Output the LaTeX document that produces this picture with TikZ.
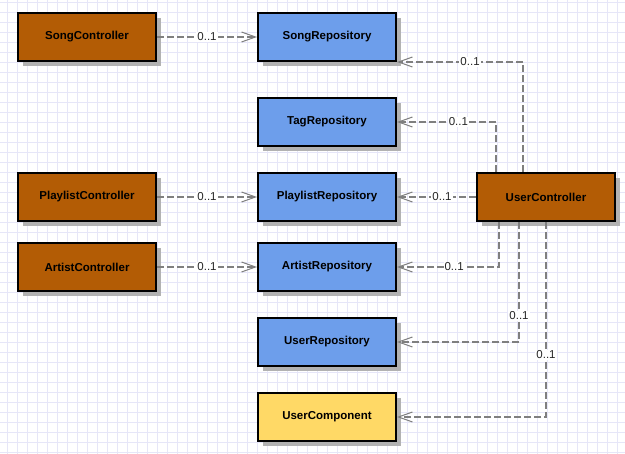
\documentclass[tikz,border=0pt]{standalone}
\usepackage{fontspec}
\setmainfont{Liberation Sans}
\usetikzlibrary{arrows.meta,positioning,shadows}

\definecolor{ctrlbrown}{HTML}{B35C05}
\definecolor{repoblue}{HTML}{6D9EEB}
\definecolor{compyellow}{HTML}{FFD966}
\definecolor{gridlav}{HTML}{E6E6F8}
\definecolor{deplinegray}{HTML}{7F7F7F}

\begin{document}
\begin{tikzpicture}[x=1pt, y=-1pt, font=\fontsize{11.5}{13}\selectfont\bfseries]
\tikzstyle{box} = [draw=black, line width=2pt, minimum width=138pt, minimum height=48pt,
  inner sep=0pt, drop shadow={shadow xshift=5pt, shadow yshift=-5pt, fill=black!30, opacity=1}]
\tikzstyle{ctrl} = [box, fill=ctrlbrown]
\tikzstyle{repo} = [box, fill=repoblue]
\tikzstyle{comp} = [box, fill=compyellow]
\tikzstyle{dep} = [-{Straight Barb[length=14pt, width=10pt, line width=1pt]}, deplinegray, line width=1.6pt, dash pattern=on 7pt off 3pt]
\tikzstyle{mult} = [fill=white, inner sep=1pt, font=\fontsize{11.5}{13}\selectfont, text=black!85]

% background grid
\useasboundingbox (0,0) rectangle (625,454);
\fill[white] (0,0) rectangle (625,454);
\foreach \gx in {7,17,...,627} \draw[gridlav, line width=1pt] (\gx,0) -- (\gx,454);
\foreach \gy in {3,13,...,453} \draw[gridlav, line width=1pt] (0,\gy) -- (625,\gy);

% controllers
\node[ctrl] (songctrl) at (87,37) {SongController};
\node[ctrl] (playctrl) at (87,197) {PlaylistController};
\node[ctrl] (artistctrl) at (87,267) {ArtistController};
\node[ctrl] (userctrl) at (546,197) {UserController};

% repositories
\node[repo] (songrepo) at (327,37) {SongRepository};
\node[repo] (tagrepo) at (327,122) {TagRepository};
\node[repo] (playrepo) at (327,197) {PlaylistRepository};
\node[repo] (artistrepo) at (327,267) {ArtistRepository};
\node[repo] (userrepo) at (327,342) {UserRepository};
\node[comp] (usercomp) at (327,417) {UserComponent};

% dependencies
\draw[dep] (songctrl) -- node[mult] {0..1} (songrepo);
\draw[dep] (playctrl) -- node[mult] {0..1} (playrepo);
\draw[dep] (artistctrl) -- node[mult] {0..1} (artistrepo);
\draw[dep] (userctrl) -- node[mult, pos=.43] {0..1} (playrepo);
\draw[dep] ([xshift=-23pt]userctrl.north) |- node[mult, pos=.71] {0..1} (songrepo.south east);
\draw[dep] ([xshift=-50pt]userctrl.north) |- node[mult, pos=.69] {0..1} (tagrepo);
\draw[dep] ([xshift=-47pt]userctrl.south) |- node[mult, pos=.72] {0..1} (artistrepo);
\draw[dep] ([xshift=-27pt]userctrl.south) |- node[mult, pos=.39] {0..1} (userrepo);
\draw[dep] (userctrl.south) |- node[mult, pos=.34] {0..1} (usercomp);
\end{tikzpicture}
\end{document}
